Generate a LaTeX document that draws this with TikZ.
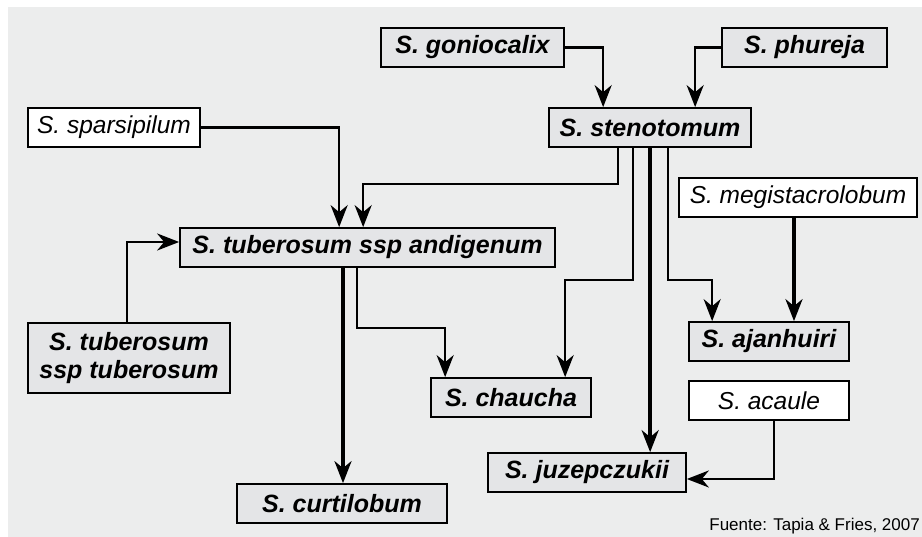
\documentclass[tikz,border=0pt]{standalone}
\usepackage{fontspec}
\setmainfont{Liberation Sans}
\usepackage{tikz}
\usetikzlibrary{arrows.meta}
\usetikzlibrary{calc}
\definecolor{fondo}{RGB}{236,237,237}
\definecolor{caja}{RGB}{228,229,231}
\tikzset{
	especie/.style={draw=black, line width=1.7pt, fill=caja, minimum height=39pt, inner sep=0pt,
		font=\fontsize{25}{28}\selectfont\bfseries\itshape},
	silvestre/.style={especie, fill=white, font=\fontsize{24.5}{28}\selectfont\itshape},
	flecha/.style={line width=2.5pt, -{Stealth[length=22pt, width=17pt, inset=7pt]}},
	flechagruesa/.style={flecha, line width=3.4pt}
}

\begin{document}
\begin{tikzpicture}[x=1pt, y=-1pt]
		\useasboundingbox (0,0) rectangle (922,537);
		\fill[fondo] (8,7) rectangle (922,537);
		
		\node[especie, minimum width=183pt] (gonio) at (472.5,47.5) {S. goniocalix};
		\node[especie, minimum width=165pt] (phur) at (804.5,47.5) {S. phureja};
		\node[especie, minimum width=202pt] (steno) at (650,127.5) {S. stenotomum};
		\node[silvestre, minimum width=172pt] (spars) at (114,127.5) {S. sparsipilum};
		\node[silvestre, minimum width=238pt] (megis) at (798,197.5) {S. megistacrolobum};
		\node[especie, minimum width=375pt] (andig) at (367.5,247.5) {S. tuberosum ssp andigenum};
		\node[especie, minimum width=202pt, minimum height=70pt, align=center] (tubt) at (129,358) {S. tuberosum\\ssp tuberosum};
		\node[especie, minimum width=160pt] (ajan) at (769,341.5) {S. ajanhuiri};
		\node[silvestre, minimum width=160pt] (acau) at (769,400.5) {S. acaule};
		\node[especie, minimum width=160pt] (chau) at (511,397.5) {S. chaucha};
		\node[especie, minimum width=198pt] (juze) at (587,472.5) {S. juzepczukii};
		\node[especie, minimum width=210pt] (curti) at (342,503.5) {S. curtilobum};
		\node[anchor=east, inner sep=0pt, font=\fontsize{17}{20}\selectfont] (fuente) at (920,526) {Fuente: Tapia \& Fries, 2007};
		
		\draw[flecha] (gonio.east) -| ([xshift=55pt]steno.north west);
		\draw[flecha] (phur.west) -| ([xshift=147pt]steno.north west);
		\draw[flecha] (spars.east) -| ([xshift=160pt]andig.north west);
		\draw[flecha] ([xshift=70pt]steno.south west) -- ++(0,36) -| ([xshift=184pt]andig.north west);
		\draw[flecha] ([xshift=85pt]steno.south west) -- ++(0,132) -| ([xshift=135pt]chau.north west);
		\draw[flechagruesa] ([xshift=102pt]steno.south west) -- ([xshift=102pt]steno.south west |- juze.north);
		\draw[flecha] ([xshift=120pt]steno.south west) -- ++(0,132) -| ([xshift=24pt]ajan.north west);
		\draw[flechagruesa] ([xshift=-4pt]megis.south) -- ([xshift=-4pt]megis.south |- ajan.north);
		\draw[flecha] ([xshift=5pt]acau.south) |- ([yshift=-6.5pt]juze.east);
		\draw[flecha] ([xshift=-2pt]tubt.north) |- ([yshift=5.5pt]andig.west);
		\draw[flechagruesa] ([xshift=-24.5pt]andig.south) -- ([xshift=-24.5pt]andig.south |- curti.north);
		\draw[flecha] ([xshift=-10.5pt]andig.south) -- ++(0,60) -| ([xshift=15pt]chau.north west);
	\end{tikzpicture}
\end{document}
